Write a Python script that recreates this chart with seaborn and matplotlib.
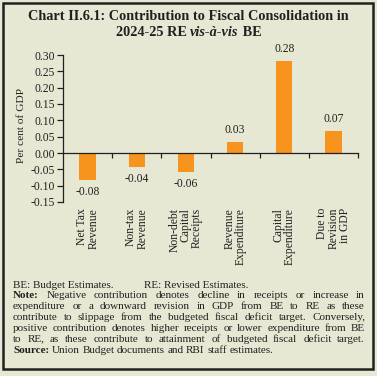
import matplotlib
matplotlib.use("Agg")
import matplotlib.pyplot as plt
import matplotlib.transforms as mtransforms
from matplotlib.patches import Rectangle
import seaborn as sns
import pandas as pd

# ---- data ----
categories = ["Net Tax\nRevenue", "Non-tax\nRevenue", "Non-debt\nCapital\nReceipts",
              "Revenue\nExpenditure", "Capital\nExpenditure", "Due to\nRevision\nin GDP"]
values = [-0.083, -0.043, -0.058, 0.034, 0.282, 0.067]
yticks = [-0.15, -0.10, -0.05, 0.00, 0.05, 0.10, 0.15, 0.20, 0.25, 0.30]
title_line1 = "Chart II.6.1: Contribution to Fiscal Consolidation in"
title_line2 = [("2024-25 RE ", 'normal'), ("vis-à-vis", 'italic'), (" BE", 'normal')]
ylabel = "Per cent of GDP"
note_lines = [
    ("Note:", "Negative contribution denotes decline in receipts or increase in", True),
    ("", "expenditure or a downward revision in GDP from BE to RE as these", True),
    ("", "contribute to slippage from the budgeted fiscal deficit target. Conversely,", True),
    ("", "positive contribution denotes higher receipts or lower expenditure from BE", True),
    ("", "to RE, as these contribute to attainment of budgeted fiscal deficit target.", True),
    ("Source:", "Union Budget documents and RBI staff estimates.", False),
]

BG = "#E6E8D3"
ORANGE = "#F7941D"
DARK = "#231F20"
FS = 8.4

sns.set_theme(style="white")
plt.rcParams['font.family'] = ['Liberation Serif', 'DejaVu Serif']
plt.rcParams['axes.unicode_minus'] = False

fig = plt.figure(figsize=(3.77, 3.76), dpi=100, facecolor=BG)
W, H = 377, 376

# frame
fig.patches.append(Rectangle((3 / W, 7 / H), 370 / W, 366 / H, transform=fig.transFigure,
                             fill=False, edgecolor=DARK, linewidth=1.8))

fig.canvas.draw()
renderer = fig.canvas.get_renderer()

# title
TFS = 10.3
fig.text(0.5, 1 - 17 / H, title_line1, ha='center', va='center', fontsize=TFS,
         fontweight='bold', color=DARK)
parts = []
for s, st in title_line2:
    t = fig.text(0, 1 - 33 / H, s, va='center', fontsize=TFS, fontweight='bold',
                 fontstyle=st, color=DARK)
    parts.append((t, t.get_window_extent(renderer).width))
tot = sum(w for _, w in parts)
x = W / 2 - tot / 2
for t, w in parts:
    t.set_x(x / W)
    x += w

ax = fig.add_axes([63 / W, 1 - 202 / H, 295 / W, 147 / H])
ax.set_facecolor(BG)
df = pd.DataFrame({"cat": categories, "val": values})
sns.barplot(data=df, x="cat", y="val", color=ORANGE, width=0.33, saturation=1,
            ax=ax, edgecolor='none')

ax.set_xlim(-0.5, 5.5)
ax.set_ylim(-0.15, 0.30)
ax.set_yticks(yticks)
ax.set_yticklabels([f"{v:.2f}" for v in yticks])
ax.set_xticks([i + 0.5 for i in range(len(categories))])
ax.set_xticklabels([])
ax.set_xlabel("")
ax.set_ylabel(ylabel, fontsize=8.2, color=DARK)
ax.yaxis.set_label_coords(-0.125, 0.52)
for s in ['top', 'right']:
    ax.spines[s].set_visible(False)
ax.spines['bottom'].set_position(('data', 0))
for s in ['left', 'bottom']:
    ax.spines[s].set_color(DARK)
    ax.spines[s].set_linewidth(0.9)
ax.tick_params(axis='y', direction='out', length=4.5, width=0.9, color=DARK,
               labelsize=FS, labelcolor=DARK, pad=1.5, left=True)
ax.tick_params(axis='x', direction='out', length=3.5, width=0.9, color=DARK, bottom=True)

trans = mtransforms.blended_transform_factory(ax.transData, ax.transAxes)
for i, c in enumerate(categories):
    ax.text(i, -0.04, c, rotation=90, ha='center', va='top', multialignment='right',
            fontsize=FS, color=DARK, transform=trans, linespacing=0.92)

for i, v in enumerate(values):
    off = -4.5 if v < 0 else 4.5
    ax.annotate(f"{v:.2f}", (i, v), xytext=(0, off), textcoords='offset points',
                ha='center', va='top' if v < 0 else 'bottom', fontsize=FS, color=DARK)

# notes
NFS = 8.0
fig.text(13 / W, 1 - 285 / H, "BE: Budget Estimates.", fontsize=NFS, color=DARK, va='center')
fig.text(144 / W, 1 - 285 / H, "RE: Revised Estimates.", fontsize=NFS, color=DARK, va='center')

x0, x1 = 13, 365
y = 296
lh = 10.8
for prefix, body, justify in note_lines:
    words = []
    if prefix:
        words.append((prefix, True))
    words += [(w, False) for w in body.split()]
    widths = []
    objs = []
    for w, b in words:
        t = fig.text(0, 1 - y / H, w, fontsize=NFS, color=DARK, va='center',
                     fontweight='bold' if b else 'normal')
        widths.append(t.get_window_extent(renderer).width)
        objs.append(t)
    if justify and len(words) > 1:
        gap = max(1.5, (x1 - x0 - sum(widths)) / (len(words) - 1))
    else:
        gap = 2.6
    x = x0
    for t, wdt in zip(objs, widths):
        t.set_x(x / W)
        x += wdt + gap
    y += lh

fig.savefig("out.png", dpi=100, facecolor=BG)
